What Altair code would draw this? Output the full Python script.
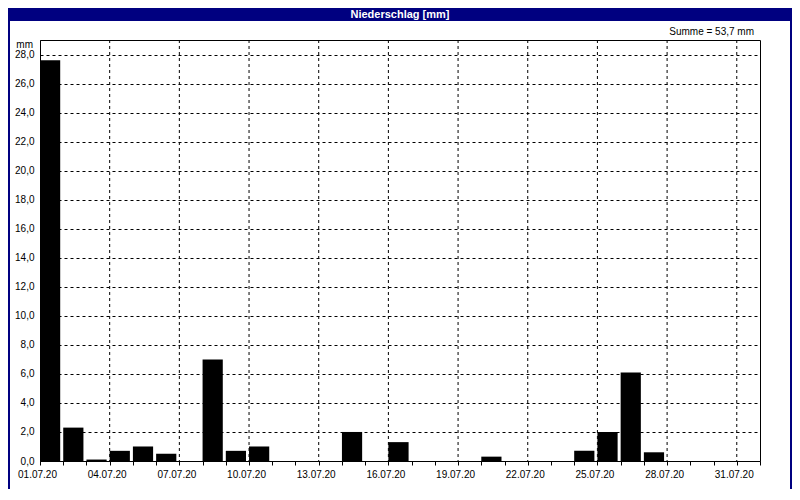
import altair as alt
import pandas as pd

# ---- data ----
days = list(range(1, 32))
precip = [27.6, 2.3, 0.1, 0.7, 1.0, 0.5, 0.0, 7.0, 0.7, 1.0,
          0.0, 0.0, 0.0, 2.0, 0.0, 1.3, 0.0, 0.0, 0.0, 0.3,
          0.0, 0.0, 0.0, 0.7, 2.0, 6.1, 0.6, 0.0, 0.0, 0.0, 0.0]
x_tick_offsets = list(range(0, 32))
x_grid_offsets = [3, 6, 9, 12, 15, 18, 21, 24, 27, 30]
y_ticks = [0, 2, 4, 6, 8, 10, 12, 14, 16, 18, 20, 22, 24, 26, 28]
title_text = "Niederschlag [mm]"
sum_text = "Summe = 53,7 mm"
unit_text = "mm"

FONT = "Liberation Sans"
NAVY = "#000080"

df = pd.DataFrame({"day": days, "mm": precip})
df = df[df["mm"] > 0].copy()
df["start"] = df["day"] - 1
df["end"] = df["start"] + 0.87

xscale = alt.Scale(domain=[0, 31], nice=False, zero=False)
yscale = alt.Scale(domain=[0, 29], nice=False)

xaxis = alt.Axis(values=x_tick_offsets,
                 labelExpr="datum.value % 3 == 0 && datum.value < 31 ? ((datum.value + 1 < 10 ? '0' : '') + (datum.value + 1) + '.07.20') : ''",
                 grid=False, tickSize=4, tickColor="black",
                 domainColor="black", labelColor="black",
                 labelFont=FONT, labelFontSize=10,
                 labelOverlap=False, labelFlush=False,
                 labelPadding=4, labelOffset=-3)

bars = alt.Chart(df).mark_rect(color="black").encode(
    x=alt.X("start:Q", scale=xscale, title=None, axis=xaxis),
    x2="end:Q",
    y=alt.Y("mm:Q", scale=yscale, title=None,
            axis=alt.Axis(values=y_ticks,
                          labelExpr="replace(format(datum.value, '.1f'), '.', ',')",
                          grid=True, gridDash=[3, 3], gridColor="black",
                          gridOpacity=1, ticks=False, labelPadding=6,
                          domainColor="black", labelColor="black",
                          labelFont=FONT, labelFontSize=10)),
    y2=alt.datum(0),
)

xgrid = alt.Chart(pd.DataFrame({"start": x_grid_offsets})).mark_rule(
    color="black", strokeDash=[3, 3], strokeWidth=1
).encode(x=alt.X("start:Q", scale=xscale, title=None, axis=xaxis))

one = pd.DataFrame({"a": [0]})

window_frame = alt.Chart(one).mark_rect(
    fill=None, stroke=NAVY, strokeWidth=2
).encode(
    x=alt.value(-31), x2=alt.value(751), y=alt.value(-31), y2=alt.value(456)
)

title_bar = alt.Chart(one).mark_rect(color=NAVY).encode(
    x=alt.value(-32), x2=alt.value(752), y=alt.value(-32), y2=alt.value(-19)
)
title = alt.Chart(one).mark_text(
    text=title_text, color="white", font=FONT, fontSize=11, fontWeight="bold",
    align="center", baseline="middle"
).encode(x=alt.value(360), y=alt.value(-25.5))

summe = alt.Chart(one).mark_text(
    text=sum_text, color="black", font=FONT, fontSize=10,
    align="right", baseline="middle"
).encode(x=alt.value(714), y=alt.value(-8))

unit = alt.Chart(one).mark_text(
    text=unit_text, color="black", font=FONT, fontSize=10,
    align="right", baseline="middle"
).encode(x=alt.value(-7), y=alt.value(4.5))

chart = alt.layer(window_frame, title_bar, bars, xgrid, title, summe, unit).properties(
    width=720, height=421,
    autosize=alt.AutoSizeParams(type="none"),
    padding={"left": 32, "top": 32, "right": 32, "bottom": 28},
    background="white",
).configure_view(stroke="black", strokeWidth=1)

chart.save("out.html", embed_options={"renderer": "svg", "actions": False})
